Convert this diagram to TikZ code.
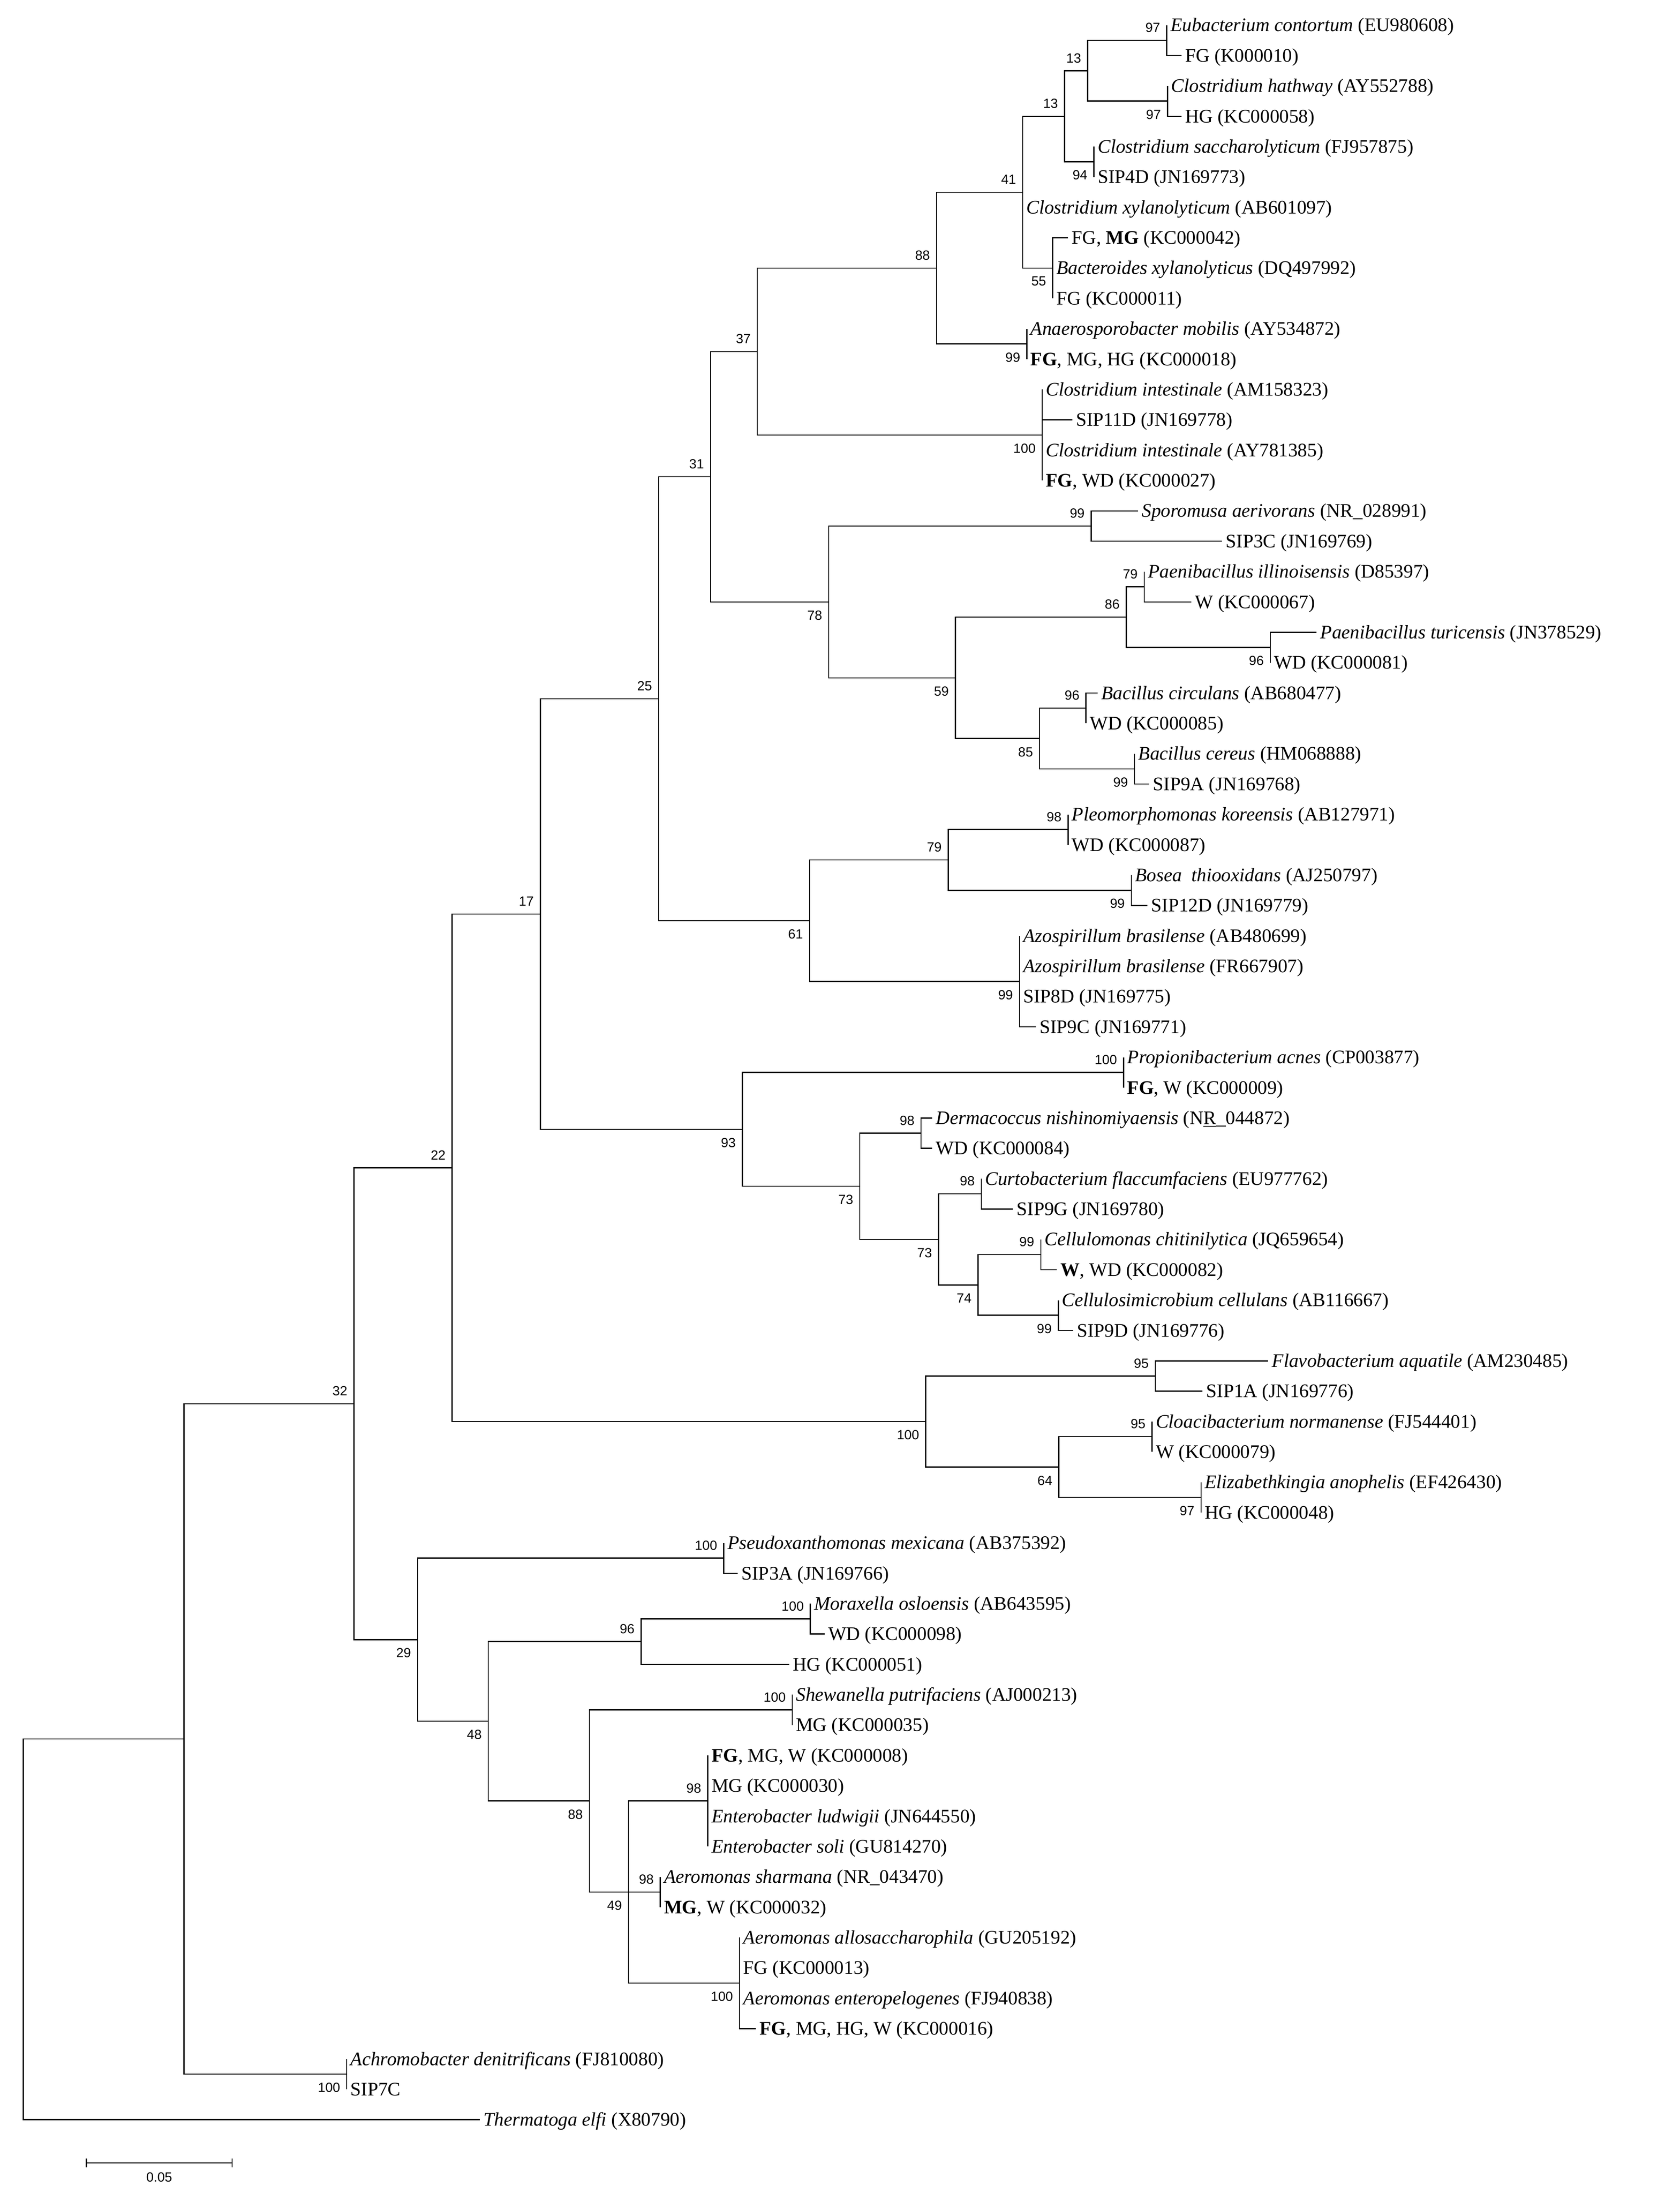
\documentclass[tikz,border=0pt]{standalone}
\usepackage{fontspec}
\setmainfont{Liberation Serif}
\newfontfamily\bsfont{Liberation Sans}
\usetikzlibrary{calc}
\tikzset{branch/.style={line width=0.8pt},
  leaf/.style={anchor=west, inner xsep=2.5pt, inner ysep=0pt, text height=9.5pt, text depth=0.5pt, font=\fontsize{13.7}{16}\selectfont},
  bsup/.style={anchor=south east, inner sep=0pt, xshift=-4.5pt, yshift=5.5pt, font=\bsfont\fontsize{9.5}{10}\selectfont},
  bsdown/.style={anchor=north east, inner sep=0pt, xshift=-4.5pt, yshift=-6pt, font=\bsfont\fontsize{9.5}{10}\selectfont}}

\begin{document}
\begin{tikzpicture}[x=1pt,y=-1pt]
\useasboundingbox (0,0) rectangle (1200,1567);
\node[leaf] (s1) at (833.5,18) {\textit{Eubacterium contortum} (EU980608)};
\node[leaf] (s2) at (844,39.68) {FG (K000010)};
\node[leaf] (s3) at (834,61.36) {\textit{Clostridium hathway} (AY552788)};
\node[leaf] (s4) at (844,83.04) {HG (KC000058)};
\node[leaf] (s5) at (781.5,104.72) {\textit{Clostridium saccharolyticum} (FJ957875)};
\node[leaf] (s6) at (781.5,126.4) {SIP4D (JN169773)};
\node[leaf] (s7) at (730.5,148.08) {\textit{Clostridium xylanolyticum} (AB601097)};
\node[leaf] (s8) at (763,169.76) {FG, \textbf{MG} (KC000042)};
\node[leaf] (s9) at (752,191.44) {\textit{Bacteroides xylanolyticus} (DQ497992)};
\node[leaf] (s10) at (752,213.12) {FG (KC000011)};
\node[leaf] (s11) at (733.5,234.8) {\textit{Anaerosporobacter mobilis} (AY534872)};
\node[leaf] (s12) at (733.5,256.48) {\textbf{FG}, MG, HG (KC000018)};
\node[leaf] (s13) at (744.5,278.16) {\textit{Clostridium intestinale} (AM158323)};
\node[leaf] (s14) at (766,299.84) {SIP11D (JN169778)};
\node[leaf] (s15) at (744.5,321.52) {\textit{Clostridium intestinale} (AY781385)};
\node[leaf] (s16) at (744.5,343.2) {\textbf{FG}, WD (KC000027)};
\node[leaf] (s17) at (813,364.88) {\textit{Sporomusa aerivorans} (NR\_028991)};
\node[leaf] (s18) at (873,386.56) {SIP3C (JN169769)};
\node[leaf] (s19) at (817.4,408.24) {\textit{Paenibacillus illinoisensis} (D85397)};
\node[leaf] (s20) at (851,429.92) {W (KC000067)};
\node[leaf] (s21) at (940.5,451.6) {\textit{Paenibacillus turicensis} (JN378529)};
\node[leaf] (s22) at (907.5,473.28) {WD (KC000081)};
\node[leaf] (s23) at (784,494.96) {\textit{Bacillus circulans} (AB680477)};
\node[leaf] (s24) at (775.8,516.64) {WD (KC000085)};
\node[leaf] (s25) at (810.5,538.32) {\textit{Bacillus cereus} (HM068888)};
\node[leaf] (s26) at (821,560) {SIP9A (JN169768)};
\node[leaf] (s27) at (763,581.68) {\textit{Pleomorphomonas koreensis} (AB127971)};
\node[leaf] (s28) at (763,603.36) {WD (KC000087)};
\node[leaf] (s29) at (808.2,625.04) {\textit{Bosea\ \ thiooxidans} (AJ250797)};
\node[leaf] (s30) at (819.7,646.72) {SIP12D (JN169779)};
\node[leaf] (s31) at (728.3,668.4) {\textit{Azospirillum brasilense} (AB480699)};
\node[leaf] (s32) at (728.3,690.08) {\textit{Azospirillum brasilense} (FR667907)};
\node[leaf] (s33) at (728.3,711.76) {SIP8D (JN169775)};
\node[leaf] (s34) at (740,733.44) {SIP9C (JN169771)};
\node[leaf] (s35) at (802.6,755.12) {\textit{Propionibacterium acnes} (CP003877)};
\node[leaf] (s36) at (802.6,776.8) {\textbf{FG}, W (KC000009)};
\node[leaf] (s37) at (666,798.48) {\textit{Dermacoccus nishinomiyaensis} (N\underline{R}\_044872)};
\node[leaf] (s38) at (666,820.16) {WD (KC000084)};
\node[leaf] (s39) at (701,841.84) {\textit{Curtobacterium flaccumfaciens} (EU977762)};
\node[leaf] (s40) at (723.6,863.52) {SIP9G (JN169780)};
\node[leaf] (s41) at (743.5,885.2) {\textit{Cellulomonas chitinilytica} (JQ659654)};
\node[leaf] (s42) at (755,906.88) {\textbf{W}, WD (KC000082)};
\node[leaf] (s43) at (756,928.56) {\textit{Cellulosimicrobium cellulans} (AB116667)};
\node[leaf] (s44) at (766.6,950.24) {SIP9D (JN169776)};
\node[leaf] (s45) at (906,971.92) {\textit{Flavobacterium aquatile} (AM230485)};
\node[leaf] (s46) at (859,993.6) {SIP1A (JN169776)};
\node[leaf] (s47) at (823,1015.28) {\textit{Cloacibacterium normanense} (FJ544401)};
\node[leaf] (s48) at (823,1036.96) {W (KC000079)};
\node[leaf] (s49) at (858,1058.64) {\textit{Elizabethkingia anophelis} (EF426430)};
\node[leaf] (s50) at (858,1080.32) {HG (KC000048)};
\node[leaf] (s51) at (517,1102) {\textit{Pseudoxanthomonas mexicana} (AB375392)};
\node[leaf] (s52) at (527,1123.68) {SIP3A (JN169766)};
\node[leaf] (s53) at (578.9,1145.36) {\textit{Moraxella osloensis} (AB643595)};
\node[leaf] (s54) at (589,1167.04) {WD (KC000098)};
\node[leaf] (s55) at (563.7,1188.72) {HG (KC000051)};
\node[leaf] (s56) at (566,1210.4) {\textit{Shewanella putrifaciens} (AJ000213)};
\node[leaf] (s57) at (566,1232.08) {MG (KC000035)};
\node[leaf] (s58) at (505.6,1253.76) {\textbf{FG}, MG, W (KC000008)};
\node[leaf] (s59) at (505.6,1275.44) {MG (KC000030)};
\node[leaf] (s60) at (505.6,1297.12) {\textit{Enterobacter ludwigii} (JN644550)};
\node[leaf] (s61) at (505.6,1318.8) {\textit{Enterobacter soli} (GU814270)};
\node[leaf] (s62) at (471.7,1340.48) {\textit{Aeromonas sharmana} (NR\_043470)};
\node[leaf] (s63) at (471.7,1362.16) {\textbf{MG}, W (KC000032)};
\node[leaf] (s64) at (528.3,1383.84) {\textit{Aeromonas allosaccharophila} (GU205192)};
\node[leaf] (s65) at (528.3,1405.52) {FG (KC000013)};
\node[leaf] (s66) at (528.3,1427.2) {\textit{Aeromonas enteropelogenes} (FJ940838)};
\node[leaf] (s67) at (540,1448.88) {\textbf{FG}, MG, HG, W (KC000016)};
\node[leaf] (s68) at (247.7,1470.56) {\textit{Achromobacter denitrificans} (FJ810080)};
\node[leaf] (s69) at (247.7,1492.24) {SIP7C};
\node[leaf] (s70) at (342.8,1513.92) {\textit{Thermatoga elfi} (X80790)};

\coordinate (n97a) at (833.5,28.84);
\coordinate (n97b) at (834,72.2);
\coordinate (n13a) at (777,50.52);
\coordinate (n94) at (781.5,115.56);
\coordinate (n13b) at (760.5,83.04);
\coordinate (n55) at (752,191.44);
\coordinate (n41) at (730.5,137.24);
\coordinate (n99a) at (733.5,245.64);
\coordinate (n88) at (669,191.44);
\coordinate (n100a) at (744.5,310.68);
\coordinate (n37) at (541,251.06);
\coordinate (n99b) at (779.5,375.72);
\coordinate (n79a) at (817.4,419.08);
\coordinate (n96b) at (907.5,462.44);
\coordinate (n86) at (804.5,440.76);
\coordinate (n96c) at (775.8,505.8);
\coordinate (n99c) at (810.5,549.16);
\coordinate (n85) at (742.6,527.48);
\coordinate (n59) at (682.5,484.12);
\coordinate (n78) at (592,429.92);
\coordinate (n31) at (507.6,340.49);
\coordinate (n98c) at (763,592.52);
\coordinate (n99d) at (808.2,635.88);
\coordinate (n79b) at (677.4,614.2);
\coordinate (n99az) at (728.3,700.92);
\coordinate (n61) at (578.3,657.56);
\coordinate (n25) at (470.5,499.03);
\coordinate (n100p) at (802.6,765.96);
\coordinate (n98d) at (658,809.32);
\coordinate (n98e) at (701,852.68);
\coordinate (n99e) at (743.5,896.04);
\coordinate (n99f) at (756,939.4);
\coordinate (n74) at (698.7,917.72);
\coordinate (n73b) at (670.5,885.2);
\coordinate (n73a) at (614.2,847.26);
\coordinate (n93) at (530.3,806.61);
\coordinate (n17) at (386,652.82);
\coordinate (n95a) at (825.3,982.76);
\coordinate (n95b) at (823,1026.12);
\coordinate (n97c) at (858,1069.48);
\coordinate (n64) at (756.4,1047.8);
\coordinate (n100c) at (661.3,1015.28);
\coordinate (n22) at (323,834.05);
\coordinate (n100h) at (517,1112.84);
\coordinate (n100i) at (578.9,1156.2);
\coordinate (n96) at (458,1172.46);
\coordinate (n100j) at (566,1221.24);
\coordinate (n98f) at (505.6,1286.28);
\coordinate (n98g) at (471.7,1351.32);
\coordinate (n100k) at (528.3,1416.36);
\coordinate (n49) at (449,1351.32);
\coordinate (n88b) at (421,1286.28);
\coordinate (n48) at (348.8,1229.37);
\coordinate (n29) at (298.3,1171.1);
\coordinate (n32) at (252.8,1002.58);
\coordinate (n100g) at (247.7,1481.4);
\coordinate (nA) at (131.4,1241.99);
\coordinate (root) at (16.7,1377.96);

\draw[branch] (s1.west) -| (n97a) |- (s2.west);
\draw[branch] (s3.west) -| (n97b) |- (s4.west);
\draw[branch] (n97a) -| (n13a) |- (n97b);
\draw[branch] (s5.west) -| (n94) |- (s6.west);
\draw[branch] (n13a) -| (n13b) |- (n94);
\draw[branch] (s8.west) -| (n55) |- (s10.west);
\draw[branch] (n55 |- s9.west) -- (s9.west);
\draw[branch] (n13b) -| (n41) |- (n55);
\draw[branch] (n41 |- s7.west) -- (s7.west);
\draw[branch] (s11.west) -| (n99a) |- (s12.west);
\draw[branch] (n41) -| (n88) |- (n99a);
\draw[branch] (s13.west) -| (n100a) |- (s16.west);
\foreach \s in {s14,s15} \draw[branch] (n100a |- \s.west) -- (\s.west);
\draw[branch] (n88) -| (n37) |- (n100a);
\draw[branch] (s17.west) -| (n99b) |- (s18.west);
\draw[branch] (s19.west) -| (n79a) |- (s20.west);
\draw[branch] (s21.west) -| (n96b) |- (s22.west);
\draw[branch] (n79a) -| (n86) |- (n96b);
\draw[branch] (s23.west) -| (n96c) |- (s24.west);
\draw[branch] (s25.west) -| (n99c) |- (s26.west);
\draw[branch] (n96c) -| (n85) |- (n99c);
\draw[branch] (n86) -| (n59) |- (n85);
\draw[branch] (n99b) -| (n78) |- (n59);
\draw[branch] (n37) -| (n31) |- (n78);
\draw[branch] (s27.west) -| (n98c) |- (s28.west);
\draw[branch] (s29.west) -| (n99d) |- (s30.west);
\draw[branch] (n98c) -| (n79b) |- (n99d);
\draw[branch] (s31.west) -| (n99az) |- (s34.west);
\foreach \s in {s32,s33} \draw[branch] (n99az |- \s.west) -- (\s.west);
\draw[branch] (n79b) -| (n61) |- (n99az);
\draw[branch] (n31) -| (n25) |- (n61);
\draw[branch] (s35.west) -| (n100p) |- (s36.west);
\draw[branch] (s37.west) -| (n98d) |- (s38.west);
\draw[branch] (s39.west) -| (n98e) |- (s40.west);
\draw[branch] (s41.west) -| (n99e) |- (s42.west);
\draw[branch] (s43.west) -| (n99f) |- (s44.west);
\draw[branch] (n99e) -| (n74) |- (n99f);
\draw[branch] (n98e) -| (n73b) |- (n74);
\draw[branch] (n98d) -| (n73a) |- (n73b);
\draw[branch] (n100p) -| (n93) |- (n73a);
\draw[branch] (n25) -| (n17) |- (n93);
\draw[branch] (s45.west) -| (n95a) |- (s46.west);
\draw[branch] (s47.west) -| (n95b) |- (s48.west);
\draw[branch] (s49.west) -| (n97c) |- (s50.west);
\draw[branch] (n95b) -| (n64) |- (n97c);
\draw[branch] (n95a) -| (n100c) |- (n64);
\draw[branch] (n17) -| (n22) |- (n100c);
\draw[branch] (s51.west) -| (n100h) |- (s52.west);
\draw[branch] (s53.west) -| (n100i) |- (s54.west);
\draw[branch] (n100i) -| (n96) |- (s55.west);
\draw[branch] (s56.west) -| (n100j) |- (s57.west);
\draw[branch] (s58.west) -| (n98f) |- (s61.west);
\foreach \s in {s59,s60} \draw[branch] (n98f |- \s.west) -- (\s.west);
\draw[branch] (s62.west) -| (n98g) |- (s63.west);
\draw[branch] (s64.west) -| (n100k) |- (s67.west);
\foreach \s in {s65,s66} \draw[branch] (n100k |- \s.west) -- (\s.west);
\draw[branch] (n98f) -| (n49) |- (n100k);
\draw[branch] (n49) -- (n98g);
\draw[branch] (n100j) -| (n88b) |- (n49);
\draw[branch] (n96) -| (n48) |- (n88b);
\draw[branch] (n100h) -| (n29) |- (n48);
\draw[branch] (n22) -| (n32) |- (n29);
\draw[branch] (s68.west) -| (n100g) |- (s69.west);
\draw[branch] (n32) -| (nA) |- (n100g);
\draw[branch] (nA) -| (root) |- (s70.west);

\node[bsup] (b97a) at (n97a) {97};
\node[bsdown] (b97b) at (n97b) {97};
\node[bsup] (b13a) at (n13a) {13};
\node[bsdown] (b94) at (n94) {94};
\node[bsup] (b13b) at (n13b) {13};
\node[bsdown] (b55) at (n55) {55};
\node[bsup] (b41) at (n41) {41};
\node[bsdown] (b99a) at (n99a) {99};
\node[bsup] (b88) at (n88) {88};
\node[bsdown] (b100a) at (n100a) {100};
\node[bsup] (b37) at (n37) {37};
\node[bsup] (b99b) at (n99b) {99};
\node[bsup] (b79a) at (n79a) {79};
\node[bsdown] (b96b) at (n96b) {96};
\node[bsup] (b86) at (n86) {86};
\node[bsup] (b96c) at (n96c) {96};
\node[bsdown] (b99c) at (n99c) {99};
\node[bsdown] (b85) at (n85) {85};
\node[bsdown] (b59) at (n59) {59};
\node[bsdown] (b78) at (n78) {78};
\node[bsup] (b31) at (n31) {31};
\node[bsup] (b98c) at (n98c) {98};
\node[bsdown] (b99d) at (n99d) {99};
\node[bsup] (b79b) at (n79b) {79};
\node[bsdown] (b99az) at (n99az) {99};
\node[bsdown] (b61) at (n61) {61};
\node[bsup] (b25) at (n25) {25};
\node[bsup] (b100p) at (n100p) {100};
\node[bsup] (b98d) at (n98d) {98};
\node[bsup] (b98e) at (n98e) {98};
\node[bsup] (b99e) at (n99e) {99};
\node[bsdown] (b99f) at (n99f) {99};
\node[bsdown] (b74) at (n74) {74};
\node[bsdown] (b73b) at (n73b) {73};
\node[bsdown] (b73a) at (n73a) {73};
\node[bsdown] (b93) at (n93) {93};
\node[bsup] (b17) at (n17) {17};
\node[bsup] (b95a) at (n95a) {95};
\node[bsup] (b95b) at (n95b) {95};
\node[bsdown] (b97c) at (n97c) {97};
\node[bsdown] (b64) at (n64) {64};
\node[bsdown] (b100c) at (n100c) {100};
\node[bsup] (b22) at (n22) {22};
\node[bsup] (b100h) at (n100h) {100};
\node[bsup] (b100i) at (n100i) {100};
\node[bsup] (b96) at (n96) {96};
\node[bsup] (b100j) at (n100j) {100};
\node[bsup] (b98f) at (n98f) {98};
\node[bsup] (b98g) at (n98g) {98};
\node[bsdown] (b100k) at (n100k) {100};
\node[bsdown] (b49) at (n49) {49};
\node[bsdown] (b88b) at (n88b) {88};
\node[bsdown] (b48) at (n48) {48};
\node[bsdown] (b29) at (n29) {29};
\node[bsup] (b32) at (n32) {32};
\node[bsdown] (b100g) at (n100g) {100};

\coordinate (sbl) at (61.7,1544.8);
\coordinate (sbr) at (165.8,1544.8);
\draw[branch] (sbl) -- (sbr);
\draw[branch] ([yshift=3.3pt]sbl) -- ([yshift=-3.3pt]sbl);
\draw[branch] ([yshift=3.3pt]sbr) -- ([yshift=-3.3pt]sbr);
\node[anchor=north, inner sep=0pt, yshift=-6.5pt, font=\bsfont\fontsize{9.5}{10}\selectfont] (sblab) at ($(sbl)!.5!(sbr)$) {0.05};
\end{tikzpicture}
\end{document}
